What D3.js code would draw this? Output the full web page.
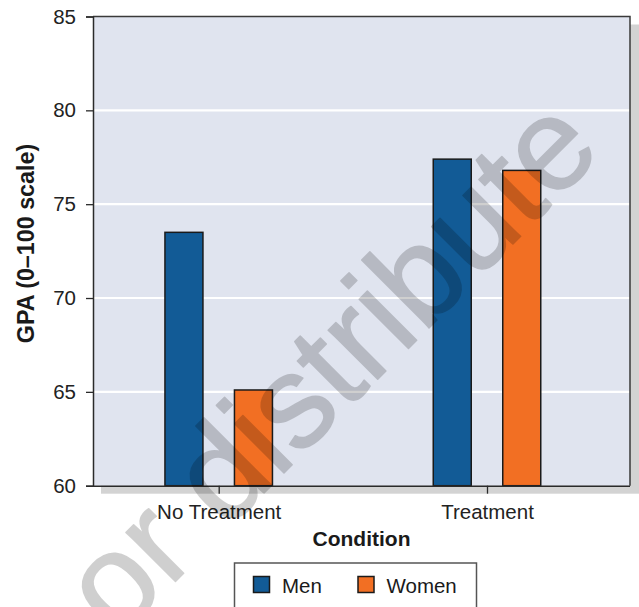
<!DOCTYPE html>
<html>
<head>
<meta charset="utf-8">
<script src="https://cdn.jsdelivr.net/npm/d3@7"></script>
<style>
  html, body { margin: 0; padding: 0; background: #ffffff; }
  svg { display: block; font-family: "Liberation Sans", Arial, Helvetica, sans-serif; }
</style>
</head>
<body>
<svg id="chart" width="639" height="607"></svg>
<script>
const categories = ["No Treatment", "Treatment"];
const series = ["Men", "Women"];
const menValues = [73.5, 77.4];
const womenValues = [65.1, 76.8];
const yTicks = [60, 65, 70, 75, 80, 85];
const colors = ["#125b96", "#f26f23"];
const xTitle = "Condition";
const yTitle = "GPA (0\u2013100 scale)";
const watermark = "or distribute";

const svg = d3.select("#chart");
const plot = { left: 93, right: 630, top: 16.5, bottom: 485.7 };

const y = d3.scaleLinear().domain([60, 85]).range([plot.bottom, plot.top]);
const x0 = d3.scalePoint().domain(categories).range([218.7, 487]);
const x1 = d3.scaleBand().domain(series).range([-54.5, 54.5]).paddingInner(0.4317);

const data = categories.map((c, i) => ({ cat: c, vals: [menValues[i], womenValues[i]] }));

// drop shadow
svg.append("rect")
  .attr("x", plot.left + 8).attr("y", plot.top + 8)
  .attr("width", 639 - plot.left - 8).attr("height", plot.bottom - plot.top)
  .attr("fill", "#d3d3d3");

// plot background
svg.append("rect")
  .attr("x", plot.left).attr("y", plot.top)
  .attr("width", plot.right - plot.left).attr("height", plot.bottom - plot.top)
  .attr("fill", "#e0e4ef");

// gridlines
svg.append("g").selectAll("line")
  .data(yTicks.filter(t => t > 60 && t < 85))
  .join("line")
  .attr("x1", plot.left).attr("x2", plot.right)
  .attr("y1", d => y(d)).attr("y2", d => y(d))
  .attr("stroke", "#ffffff").attr("stroke-width", 2.2);

// bars
const groups = svg.append("g").selectAll("g")
  .data(data).join("g")
  .attr("transform", d => `translate(${x0(d.cat)},0)`);
groups.selectAll("rect")
  .data(d => d.vals.map((v, j) => ({ s: series[j], v, j })))
  .join("rect")
  .attr("x", d => x1(d.s) + 0.75)
  .attr("width", x1.bandwidth() - 1.5)
  .attr("y", d => y(d.v))
  .attr("height", d => y(60) - y(d.v))
  .attr("fill", d => colors[d.j])
  .attr("stroke", "#1a1a1a").attr("stroke-width", 1.5);

// frame (top & right)
svg.append("path")
  .attr("d", `M${plot.left},${plot.top}H${plot.right}V${plot.bottom}`)
  .attr("fill", "none").attr("stroke", "#3a3a3a").attr("stroke-width", 1.5);

// y axis
const yAxis = svg.append("g")
  .attr("transform", `translate(${plot.left},0)`)
  .call(d3.axisLeft(y).tickValues(yTicks).tickSize(7).tickPadding(10));
yAxis.select(".domain").attr("stroke", "#2a2a2a").attr("stroke-width", 1.5);
yAxis.selectAll(".tick line").attr("stroke", "#2a2a2a").attr("stroke-width", 1.3);
yAxis.selectAll(".tick text")
  .attr("font-size", "20.5px").attr("fill", "#222")
  .attr("font-family", "Liberation Sans, Arial, sans-serif");

// x axis
const xAxis = svg.append("g")
  .attr("transform", `translate(0,${plot.bottom})`)
  .call(d3.axisBottom(x0).tickSize(8).tickPadding(8).tickSizeOuter(0));
xAxis.select(".domain").attr("d", `M${plot.left},0.5H${plot.right}`)
  .attr("stroke", "#2a2a2a").attr("stroke-width", 1.5);
xAxis.selectAll(".tick line").attr("stroke", "#2a2a2a").attr("stroke-width", 1.3);
xAxis.selectAll(".tick text")
  .attr("font-size", "20.5px").attr("fill", "#222")
  .attr("font-family", "Liberation Sans, Arial, sans-serif")
  .attr("dy", null).attr("y", 33.3);

// axis titles
svg.append("text")
  .attr("x", (plot.left + plot.right) / 2).attr("y", 546)
  .attr("text-anchor", "middle")
  .attr("font-size", "21px").attr("font-weight", "bold").attr("fill", "#1a1a1a")
  .text(xTitle);

svg.append("text")
  .attr("transform", "translate(33.5,243.5) rotate(-90)")
  .attr("text-anchor", "middle")
  .attr("font-size", "23.3px").attr("font-weight", "bold").attr("fill", "#1a1a1a")
  .text(yTitle);

// legend
const legend = svg.append("g");
legend.append("rect")
  .attr("x", 234.5).attr("y", 563)
  .attr("width", 242).attr("height", 60)
  .attr("fill", "#ffffff").attr("stroke", "#555").attr("stroke-width", 1.5);
const legendX = [253.5, 358];
const legendItems = legend.selectAll("g.item")
  .data(series).join("g")
  .attr("transform", (d, i) => `translate(${legendX[i]},576.5)`);
legendItems.append("rect")
  .attr("width", 16).attr("height", 16)
  .attr("fill", (d, i) => colors[i])
  .attr("stroke", "#1a1a1a").attr("stroke-width", 1.5);
legendItems.append("text")
  .attr("x", 28.5).attr("y", 16.5)
  .attr("font-size", "20.5px").attr("fill", "#1a1a1a")
  .text(d => d);

// watermark
svg.append("g").attr("opacity", 0.185)
  .append("text")
  .attr("transform", "translate(117,640) rotate(-45)")
  .attr("font-size", "132px")
  .attr("fill", "#000").attr("stroke", "#000").attr("stroke-width", 1.5)
  .attr("stroke-linejoin", "round")
  .text(watermark);
</script>
</body>
</html>
